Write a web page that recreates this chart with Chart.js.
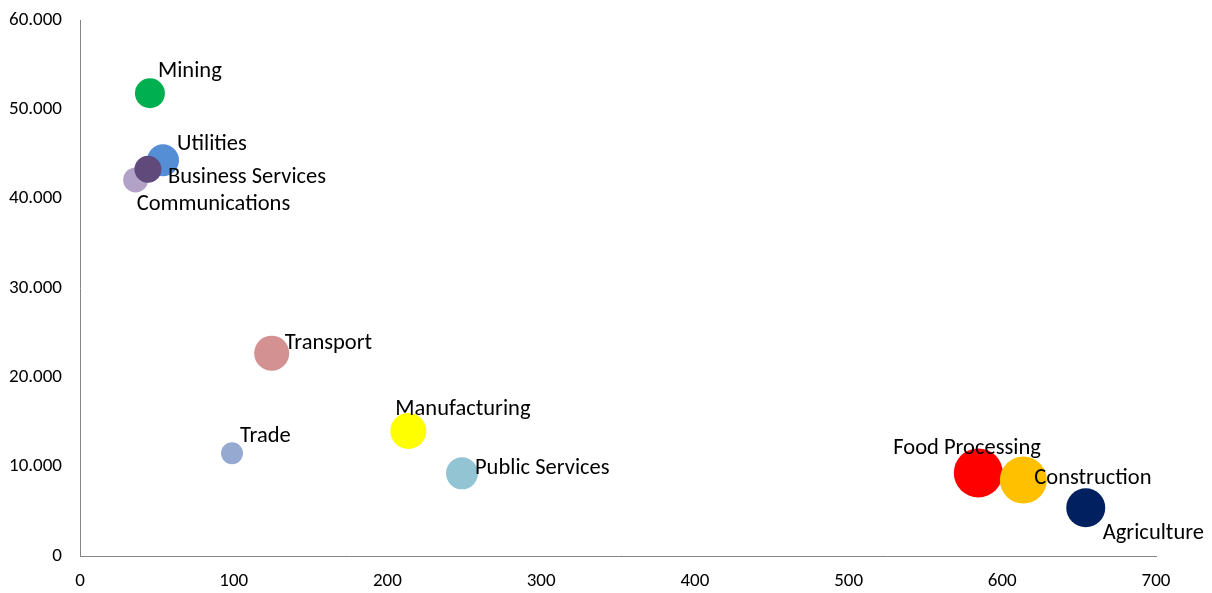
<!DOCTYPE html>
<html>
<head>
<meta charset="utf-8">
<script src="https://cdn.jsdelivr.net/npm/chart.js@4/dist/chart.umd.min.js"></script>
<style>
  html, body { margin: 0; padding: 0; background: #fff; }
  #wrap { width: 1212px; height: 593px; position: relative; }
</style>
</head>
<body>
<div id="wrap"><canvas id="sectorBubble"></canvas></div>
<script>
// sectors, drawn in this order (later ones sit on top)
const sectors = ['Mining', 'Utilities', 'Communications', 'Business Services', 'Transport', 'Trade',
                 'Manufacturing', 'Public Services', 'Food Processing', 'Construction', 'Agriculture'];
const xValues = [45.5, 54, 36.2, 44.2, 124.7, 98.9, 213.6, 248.5, 584.4, 613.7, 654.3];
const yValues = [51800, 44300, 42100, 43300, 22700, 11500, 14000, 9250, 9300, 8500, 5400];
const bubbleR = [15, 16, 12.5, 13.5, 17.5, 11, 18, 16, 24.5, 23.5, 19.5];
const xTicks = [0, 100, 200, 300, 400, 500, 600, 700];
const yTicks = [0, 10000, 20000, 30000, 40000, 50000, 60000];

const colors = ['#00B050', '#558ED5', '#B3A2C7', '#604A7B', '#D39191', '#95A9D1',
                '#FFFF00', '#93C4D4', '#FF0000', '#FFC000', '#002060'];
// label offset from bubble centre: [dx to text start, dy to text middle]
const labelOffsets = [[8, -22], [14, -16], [1, 24], [20, 8], [13, -10], [8, -17],
                      [-13, -22], [13, -5], [-85, -25], [11, -2], [17, 26]];

const FONT = 'Carlito, Lato, "Open Sans", sans-serif';

function dotThousands(v) {
  return String(v).replace(/\B(?=(\d{3})+(?!\d))/g, '.');
}

// sector names next to the bubbles, painted over all of them
const bubbleLabels = {
  id: 'bubbleLabels',
  afterDatasetsDraw(chart) {
    const ctx = chart.ctx;
    const meta = chart.getDatasetMeta(0);
    ctx.save();
    ctx.font = '22.5px ' + FONT;
    ctx.fillStyle = '#000';
    ctx.textAlign = 'left';
    ctx.textBaseline = 'middle';
    meta.data.forEach(function(pt, i) {
      ctx.fillText(sectors[i], pt.x + labelOffsets[i][0], pt.y + labelOffsets[i][1]);
    });
    ctx.restore();
  }
};

const ctx = document.getElementById('sectorBubble');
const sectorBubble = new Chart(ctx, {
  type: 'bubble',
  data: {
    datasets: [{
      label: 'Sectors',
      data: sectors.map(function(s, i) { return { x: xValues[i], y: yValues[i], r: bubbleR[i] }; }),
      backgroundColor: colors,
      borderWidth: 0,
      hoverBorderWidth: 0,
      clip: false
    }]
  },
  options: {
    responsive: true,
    maintainAspectRatio: false,
    animation: false,
    layout: { autoPadding: false, padding: { top: 20, right: 56, left: 0, bottom: 0 } },
    plugins: { legend: { display: false }, tooltip: { enabled: false } },
    scales: {
      x: {
        type: 'linear',
        min: 0, max: 700,
        afterBuildTicks: function(scale) { scale.ticks = xTicks.map(function(v) { return { value: v }; }); },
        afterFit: function(scale) { scale.height = 37; },
        grid: { display: false },
        border: { display: true, color: '#868686', width: 1 },
        ticks: { padding: 6, color: '#000', font: { family: FONT, size: 19 } }
      },
      y: {
        type: 'linear',
        min: 0, max: 60000,
        afterBuildTicks: function(scale) { scale.ticks = yTicks.map(function(v) { return { value: v }; }); },
        afterFit: function(scale) {
          scale.width = 80;
          // let the top label overhang instead of pushing the plot down
          scale.paddingTop = 0;
          scale.paddingBottom = 0;
        },
        grid: { display: false },
        border: { display: true, color: '#868686', width: 1 },
        ticks: {
          padding: 10, color: '#000', font: { family: FONT, size: 19 },
          callback: function(v) { return dotThousands(v); }
        }
      }
    }
  },
  plugins: [bubbleLabels]
});
</script>
</body>
</html>
